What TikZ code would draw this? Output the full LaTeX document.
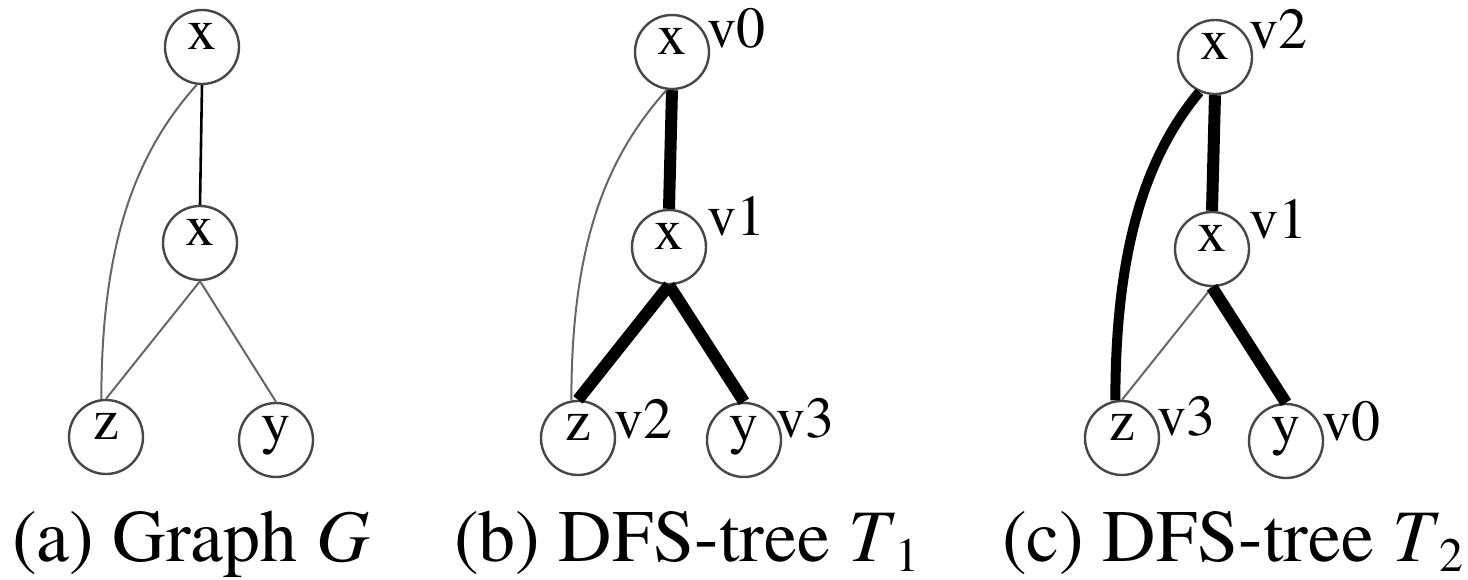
\documentclass[tikz,border=0pt]{standalone}
\usepackage{fontspec}
\setmainfont{texgyretermes}[Extension=.otf,UprightFont=*-regular,ItalicFont=*-italic,BoldFont=*-bold,BoldItalicFont=*-bolditalic]
\begin{document}
\begin{tikzpicture}[x=1pt,y=-1pt,
  vert/.style={circle,draw=black!72,line width=2.4pt,minimum size=74pt,inner sep=0pt,
    font=\fontsize{58}{60}\selectfont,text height=1ex,text depth=0pt},
  lab/.style={anchor=base west,inner sep=0pt,font=\fontsize{58}{60}\selectfont},
  captext/.style={anchor=base west,inner sep=0pt,font=\fontsize{74}{80}\selectfont},
  thinedge/.style={draw=black!60,line width=2pt},
  plainedge/.style={draw=black,line width=2.6pt},
  thickedge/.style={draw=black,line width=12pt}]
\useasboundingbox (0,0) rectangle (1468,579);
% (a)
\node[vert] (a1) at (202,47) {x};
\node[vert] (a2) at (200,243) {x};
\node[vert] (az) at (106,437) {z};
\node[vert] (ay) at (276,440) {y};
\draw[plainedge] (a1.south) -- (a2.north);
\draw[thinedge] (a1.-98) .. controls +(-59,66) and +(0,-160) .. (az.97);
\draw[thinedge] (a2.south) -- (az.north);
\draw[thinedge] (a2.south) -- (ay.north);
% (b)
\node[vert] (b1) at (672,52) {x};
\node[vert] (b2) at (669,247) {x};
\node[vert] (bz) at (578,438) {z};
\node[vert] (by) at (744,440) {y};
\draw[thickedge] (b1.south) -- (b2.north);
\draw[thinedge] (b1.-98) .. controls +(-59,66) and +(0,-160) .. (bz.100);
\draw[thickedge] (b2.south) -- (bz.north);
\draw[thickedge] (b2.south) -- (by.north);
\node[lab] (lb0) at (707,47) {v0};
\node[lab] (lb1) at (707,235) {v1};
\node[lab] (lb2) at (614,438) {v2};
\node[lab] (lb3) at (776,437) {v3};
% (c)
\node[vert] (c1) at (1215,57) {x};
\node[vert] (c2) at (1212,249) {x};
\node[vert] (cz) at (1122,438) {z};
\node[vert] (cy) at (1286,441) {y};
\draw[thickedge] (c1.south) -- (c2.north);
\draw[draw=black,line width=10pt] (c1.-114) .. controls +(-50,60) and +(0,-160) .. (cz.100);
\draw[thinedge] (c2.south) -- (cz.north);
\draw[thickedge] (c2.south) -- (cy.north);
\node[lab] (lc2) at (1249,48) {v2};
\node[lab] (lc1) at (1249,238) {v1};
\node[lab] (lc3) at (1157,435) {v3};
\node[lab] (lc0) at (1322,440) {v0};
% captions
\node[captext] (capa) at (12,561) {(a) Graph \textit{G}};
\node[captext] (capb) at (454,561) {(b) DFS-tree \textit{T}\raisebox{-10pt}{\fontsize{48}{50}\selectfont 1}};
\node[captext] (capc) at (1002,561) {(c) DFS-tree \textit{T}\raisebox{-10pt}{\fontsize{48}{50}\selectfont 2}};
\end{tikzpicture}
\end{document}
